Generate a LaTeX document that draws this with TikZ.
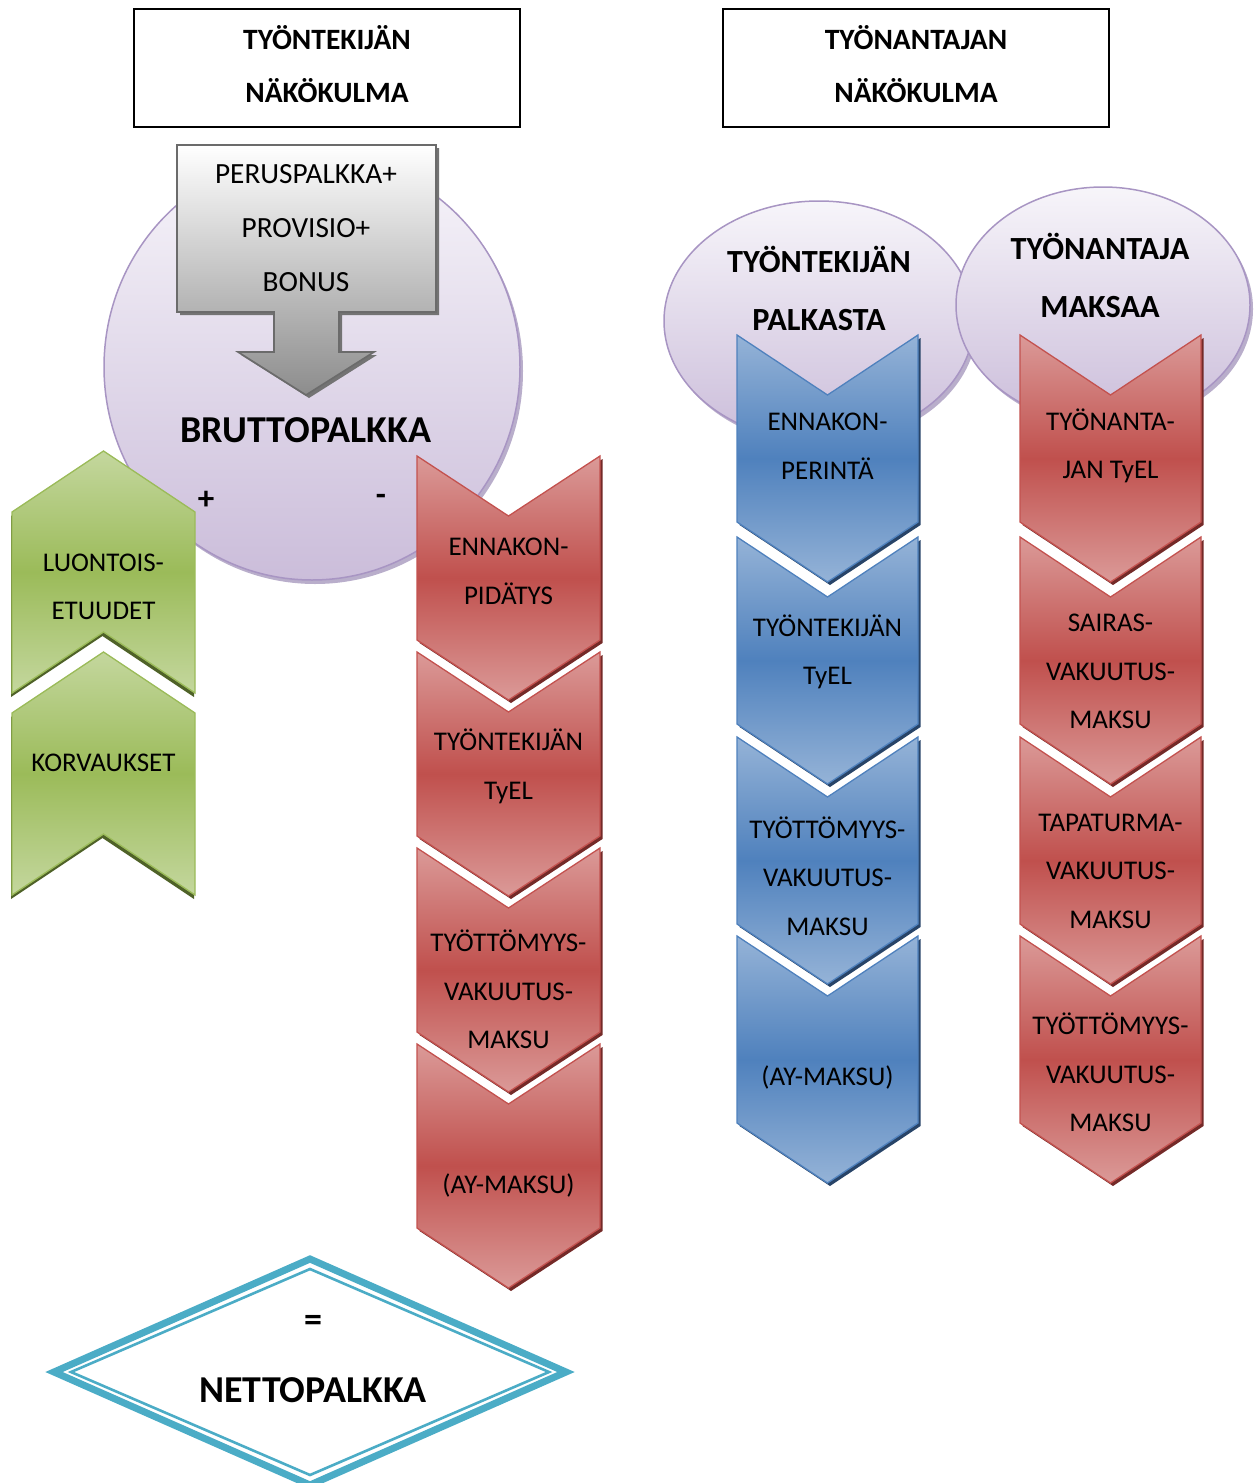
\documentclass[tikz,border=0pt]{standalone}
\usepackage{fontspec}
\setmainfont{Carlito}
\usetikzlibrary{calc}

% colour families for the ribbon pieces
\definecolor{redmid}{HTML}{C0504D}
\definecolor{redlight}{HTML}{DB9A98}
\definecolor{rededge}{HTML}{C3524F}
\definecolor{reddark}{HTML}{742A28}
\definecolor{bluemid}{HTML}{4F81BD}
\definecolor{bluelight}{HTML}{95B3D7}
\definecolor{blueedge}{HTML}{4F81BD}
\definecolor{bluedark}{HTML}{284468}
\definecolor{greenmid}{HTML}{9BBB59}
\definecolor{greenlight}{HTML}{C4D79E}
\definecolor{greenedge}{HTML}{9BBB59}
\definecolor{greendark}{HTML}{4F6228}
\definecolor{lavtop}{HTML}{F7F5FA}
\definecolor{lavbot}{HTML}{CBBDDA}
\definecolor{lavedge}{HTML}{A895C3}
\definecolor{lavshadow}{HTML}{B9AECB}
\definecolor{diam}{HTML}{4BACC6}

% downward chevron: colour family, centre x, top y, half width, body length
\newcommand\chevDown[5]{%
  \fill[#1dark,xshift=2.5pt,yshift=-3pt]
    (#2-#4,#3) -- (#2,#3+60) -- (#2+#4,#3) -- (#2+#4,#3+#5) -- (#2,#3+#5+60) -- (#2-#4,#3+#5) -- cycle;
  \shade[top color=#1light,bottom color=#1light,middle color=#1mid,draw=#1edge,line width=1.3pt,line join=miter]
    (#2-#4,#3) -- (#2,#3+60) -- (#2+#4,#3) -- (#2+#4,#3+#5) -- (#2,#3+#5+60) -- (#2-#4,#3+#5) -- cycle;
}
% upward chevron: colour family, centre x, tip y, half width, body length
\newcommand\chevUp[5]{%
  \fill[#1dark,xshift=-1pt,yshift=-4pt]
    (#2-#4,#3+61) -- (#2,#3) -- (#2+#4,#3+61) -- (#2+#4,#3+#5+61) -- (#2,#3+#5) -- (#2-#4,#3+#5+61) -- cycle;
  \shade[top color=#1light,bottom color=#1light,middle color=#1mid,draw=#1edge,line width=1.3pt,line join=miter]
    (#2-#4,#3+61) -- (#2,#3) -- (#2+#4,#3+61) -- (#2+#4,#3+#5+61) -- (#2,#3+#5) -- (#2-#4,#3+#5+61) -- cycle;
}

\tikzset{
  lbl/.style={inner sep=0pt,align=center,font=\fontsize{27}{48.5}\selectfont},
  hdr/.style={inner sep=0pt,align=center,font=\fontsize{29.5}{53}\selectfont\bfseries},
  ovalhdr/.style={inner sep=0pt,align=center,font=\fontsize{32.3}{58}\selectfont\bfseries},
  bigtxt/.style={inner sep=0pt,align=center,font=\fontsize{38}{40}\selectfont\bfseries},
  hdrbox/.style={draw=black,line width=1.6pt,fill=white},
}

\begin{document}
\begin{tikzpicture}[x=1pt,y=-1pt]
\useasboundingbox (0,0) rectangle (1259,1483);

% ---------------- header boxes ----------------
\draw[hdrbox] (134,9) rectangle (520,127);
\node[hdr] (hleft) at (327,64.5) {TYÖNTEKIJÄN\\NÄKÖKULMA};
\draw[hdrbox] (723,9) rectangle (1109,127);
\node[hdr] (hright) at (916,64.5) {TYÖNANTAJAN\\NÄKÖKULMA};

% ---------------- gross pay circle ----------------
\fill[lavshadow] (315,371) ellipse [x radius=208,y radius=213];
\shade[top color=lavtop,bottom color=lavbot,draw=lavedge,line width=1.5pt]
  (312,367) ellipse [x radius=208,y radius=213];

% callout box with downward arrow
\fill[black!55,xshift=3pt,yshift=-3pt]
  (177,145) -- (436,145) -- (436,312) -- (339,312) -- (339,352) -- (374,352) -- (306,395)
  -- (238,352) -- (274,352) -- (274,312) -- (177,312) -- cycle;
\shade[top color=white,bottom color=black!45,draw=black!58,line width=1.6pt]
  (177,145) -- (436,145) -- (436,312) -- (339,312) -- (339,352) -- (374,352) -- (306,395)
  -- (238,352) -- (274,352) -- (274,312) -- (177,312) -- cycle;
\node[lbl,font=\fontsize{29.3}{54}\selectfont] (base) at (306,228) {PERUSPALKKA+\\PROVISIO+\\BONUS};

\node[bigtxt] (brutto) at (306,430) {BRUTTOPALKKA};
\node[bigtxt,font=\fontsize{33}{33}\selectfont\bfseries] (plus) at (206,500) {+};
\node[bigtxt,font=\fontsize{33}{33}\selectfont\bfseries] (minus) at (381,500) {-};

% ---------------- additions (green) ----------------
\chevUp{green}{103.5}{451}{91.5}{181}
\chevUp{green}{103.5}{652}{91.5}{182}
\node[lbl] (luontois) at (103.5,587) {LUONTOIS-\\ETUUDET};
\node[lbl] (korv) at (103.5,763) {KORVAUKSET};

% ---------------- deductions (red, left) ----------------
\chevDown{red}{508.5}{456}{91.5}{184}
\chevDown{red}{508.5}{652}{91.5}{184}
\chevDown{red}{508.5}{848}{91.5}{184}
\chevDown{red}{508.5}{1044}{91.5}{184}
\node[lbl] (ennp) at (508.5,571.5) {ENNAKON-\\PIDÄTYS};
\node[lbl] (tyelw) at (508.5,766.5) {TYÖNTEKIJÄN\\TyEL};
\node[lbl] (tvmw) at (508.5,989.5) {TYÖTTÖMYYS-\\VAKUUTUS-\\MAKSU};
\node[lbl] (ayw) at (508.5,1185) {(AY-MAKSU)};

% ---------------- net pay diamond ----------------
\fill[white] (54,1372) -- (310,1259) -- (566,1372) -- (310,1485) -- cycle;
\draw[diam,line width=7pt,line join=miter] (54,1372) -- (310,1259) -- (566,1372) -- (310,1485) -- cycle;
\draw[diam,line width=2.6pt,line join=miter] (71,1372) -- (310,1269) -- (549,1372) -- (310,1475) -- cycle;
\node[bigtxt,font=\fontsize{36}{36}\selectfont\bfseries] (eq) at (313,1323) {=};
\node[bigtxt] (netto) at (313,1390) {NETTOPALKKA};

% ---------------- employer's view ----------------
\fill[lavshadow] (822,325) ellipse [x radius=155,y radius=120];
\shade[top color=lavtop,bottom color=lavbot,draw=lavedge,line width=1.5pt]
  (819,321) ellipse [x radius=155,y radius=120];
\fill[lavshadow] (1106,309) ellipse [x radius=147,y radius=118];
\shade[top color=lavtop,bottom color=lavbot,draw=lavedge,line width=1.5pt]
  (1103,305) ellipse [x radius=147,y radius=118];
\node[ovalhdr] (ovw) at (819,288) {TYÖNTEKIJÄN\\PALKASTA};
\node[ovalhdr] (ovr) at (1100,275.5) {TYÖNANTAJA\\MAKSAA};

% withheld from the employee (blue)
\chevDown{blue}{827.5}{335}{90.5}{187}
\chevDown{blue}{827.5}{537}{90.5}{187}
\chevDown{blue}{827.5}{737}{90.5}{187}
\chevDown{blue}{827.5}{936}{90.5}{187}
\node[lbl] (b1) at (827.5,446) {ENNAKON-\\PERINTÄ};
\node[lbl] (b2) at (827.5,652) {TYÖNTEKIJÄN\\TyEL};
\node[lbl] (b3) at (827.5,876) {TYÖTTÖMYYS-\\VAKUUTUS-\\MAKSU};
\node[lbl] (b4) at (827.5,1077) {(AY-MAKSU)};

% paid by the employer (red, right)
\chevDown{red}{1110.5}{335}{90.5}{187}
\chevDown{red}{1110.5}{537}{90.5}{187}
\chevDown{red}{1110.5}{737}{90.5}{187}
\chevDown{red}{1110.5}{936}{90.5}{187}
\node[lbl] (r1) at (1110.5,446) {TYÖNANTA-\\JAN TyEL};
\node[lbl] (r2) at (1110.5,671.5) {SAIRAS-\\VAKUUTUS-\\MAKSU};
\node[lbl] (r3) at (1110.5,871) {TAPATURMA-\\VAKUUTUS-\\MAKSU};
\node[lbl] (r4) at (1110.5,1072.5) {TYÖTTÖMYYS-\\VAKUUTUS-\\MAKSU};
\end{tikzpicture}
\end{document}
